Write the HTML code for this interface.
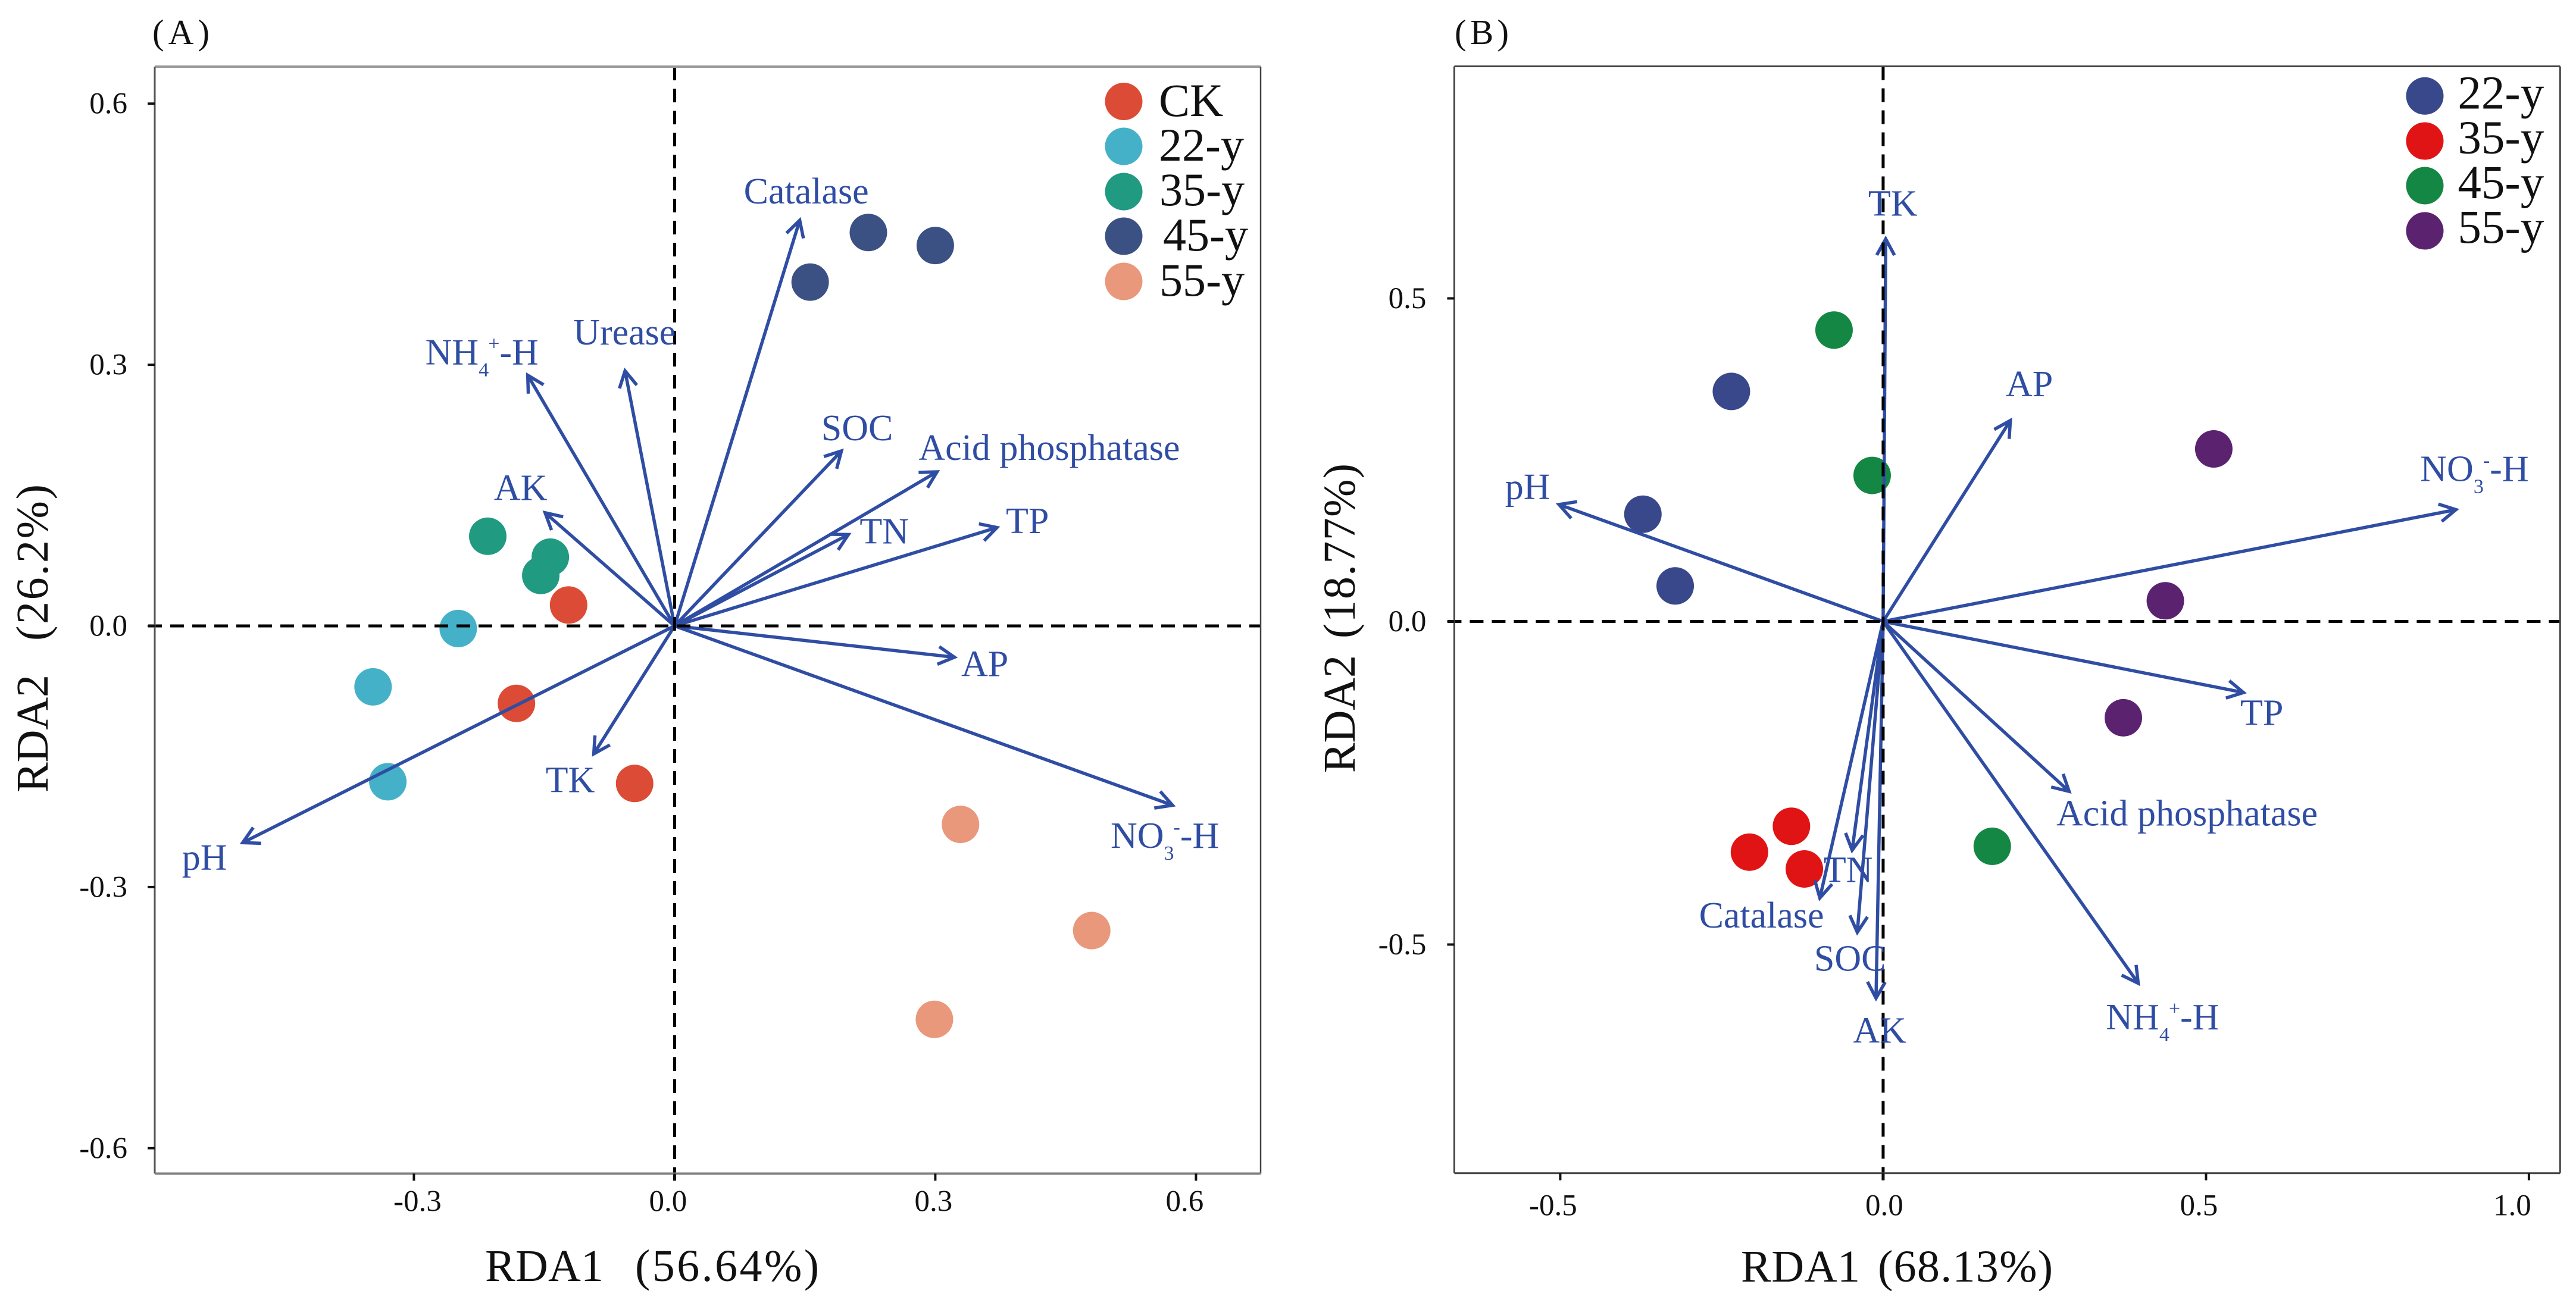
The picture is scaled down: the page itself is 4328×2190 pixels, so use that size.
<!DOCTYPE html>
<html lang="en">
<head>
<meta charset="utf-8">
<title>RDA biplots of soil properties and enzymes</title>
<style>
html,body{margin:0;padding:0;background:#fff;}
svg{display:block;font-family:"Liberation Serif","Noto Serif CJK SC",serif;}
</style>
</head>
<body>
<svg id="figure" xmlns="http://www.w3.org/2000/svg" width="4328" height="2190" viewBox="0 0 4328 2190">
  <rect x="0" y="0" width="4328" height="2190" fill="#ffffff"/>

  <text x="256" y="74" font-size="59" textLength="96" fill="#111">(A)</text>
  <text x="2444" y="74" font-size="59" textLength="91" fill="#111">(B)</text>

  <text x="815" y="2153" font-size="76" textLength="199" fill="#111">RDA1</text>
  <text x="1067" y="2153" font-size="76" textLength="309" fill="#111">(56.64%)</text>
  <text transform="translate(80 1332) rotate(-90)" font-size="76" textLength="198" fill="#111">RDA2</text>
  <text transform="translate(80 1077) rotate(-90)" font-size="76" textLength="263" fill="#111">(26.2%)</text>

  <text x="2925" y="2154" font-size="76" textLength="200" fill="#111">RDA1</text>
  <text x="3155" y="2154" font-size="76" textLength="294" fill="#111">(68.13%)</text>
  <text transform="translate(2276 1299) rotate(-90)" font-size="76" textLength="198" fill="#111">RDA2</text>
  <text transform="translate(2276 1073) rotate(-90)" font-size="76" textLength="294" fill="#111">(18.77%)</text>

  <g id="plot-layer"></g>
</svg>

<script>
// ---------- Panel A data ----------
const aGroups = ['CK', '22-y', '35-y', '45-y', '55-y'];
const aPointX = [
  [-0.122, -0.182, -0.046],
  [-0.249, -0.347, -0.330],
  [-0.215, -0.143, -0.154],
  [0.223, 0.300, 0.156],
  [0.329, 0.480, 0.299]
];
const aPointY = [
  [0.024, -0.089, -0.181],
  [-0.003, -0.070, -0.179],
  [0.103, 0.079, 0.058],
  [0.452, 0.437, 0.395],
  [-0.228, -0.350, -0.452]
];
const aVectorNames = ['Catalase', 'Urease', 'NH4', 'AK', 'SOC', 'Acid phosphatase', 'TN', 'TP', 'AP', 'NO3', 'pH', 'TK'];
const aVectorX = [0.144, -0.057, -0.169, -0.149, 0.192, 0.302, 0.200, 0.371, 0.322, 0.573, -0.497, -0.093];
const aVectorY = [0.466, 0.293, 0.288, 0.130, 0.201, 0.177, 0.105, 0.113, -0.036, -0.206, -0.249, -0.147];
const aXTicks = [-0.3, 0, 0.3, 0.6];
const aYTicks = [-0.6, -0.3, 0, 0.3, 0.6];

// ---------- Panel B data ----------
const bGroups = ['22-y', '35-y', '45-y', '55-y'];
const bPointX = [
  [-0.235, -0.372, -0.322],
  [-0.142, -0.207, -0.122],
  [-0.076, -0.017, 0.169],
  [0.512, 0.437, 0.372]
];
const bPointY = [
  [0.356, 0.166, 0.055],
  [-0.317, -0.357, -0.383],
  [0.451, 0.226, -0.348],
  [0.267, 0.032, -0.149]
];
const bVectorNames = ['TK', 'pH', 'AP', 'NO3', 'TP', 'Acid phosphatase', 'NH4', 'TN', 'SOC', 'Catalase', 'AK'];
const bVectorX = [0.004, -0.502, 0.197, 0.887, 0.558, 0.288, 0.395, -0.048, -0.040, -0.098, -0.011];
const bVectorY = [0.592, 0.181, 0.311, 0.173, -0.110, -0.263, -0.560, -0.354, -0.481, -0.428, -0.583];
const bXTicks = [-0.5, 0, 0.5, 1];
const bYTicks = [-0.5, 0, 0.5];

// ---------- Layout and style (not data) ----------
const panelA = {
  id: 'panel-a',
  left: 260, right: 2118, top: 112, bottom: 1972.5,
  originX: 1133.4, originY: 1052, unitX: 1460, unitY: 1463,
  colors: ['#dc4b35', '#45b1c8', '#209a80', '#3b5183', '#e9987b'],
  legendCircleX: 1888, legendCircleY: [170.5, 246, 322, 397, 473],
  legendTextX: [1947, 1947, 1948, 1954, 1948], legendBaseline: [195, 270, 345, 421, 497],
  legendFont: 78,
  tickLabelRight: 214, tickLabelDrop: 16.5, xTickBaseline: 2035.6,
  xLabelNudge: {'-0.3': 6, '0.0': -11, '0.3': -3, '0.6': -19},
  edges: {top: ['#9a9a9a', 4], left: ['#555', 3], right: ['#444', 2.5], bottom: ['#808080', 4]},
  labelOffset: {
    'Catalase': [-94, -28], 'Urease': [-87, -44.5], 'NH4': [-172, -18], 'AK': [-86, -21.5],
    'SOC': [-34, -18], 'Acid phosphatase': [-31, -20], 'TN': [19, 15], 'TP': [15, 9.5],
    'AP': [11.5, 31.6], 'NO3': [-104, 71.6], 'pH': [-102, 45], 'TK': [-81, 64.5]
  }
};
const panelB = {
  id: 'panel-b',
  left: 2443.4, right: 4301.3, top: 111.5, bottom: 1971.8,
  originX: 3163.9, originY: 1044.5, unitX: 1085, unitY: 1086,
  colors: ['#38488a', '#e01414', '#148744', '#5b236f'],
  legendCircleX: 4074, legendCircleY: [161.3, 237, 312, 388],
  legendTextX: [4129.4, 4129.4, 4129.4, 4129.4], legendBaseline: [182.4, 257.5, 333, 408],
  legendFont: 79,
  tickLabelRight: 2396.4, tickLabelDrop: 16.5, xTickBaseline: 2042.6,
  xLabelNudge: {'-0.5': -12, '0.0': 2, '0.5': -12, '1.0': -28},
  edges: {top: ['#444', 3], left: ['#444', 3], right: ['#444', 3], bottom: ['#444', 3]},
  labelOffset: {
    'TK': [-29.4, -39.3], 'pH': [-90.5, -9.4], 'AP': [-7.7, -40.6], 'NO3': [-60, -48.2],
    'TP': [-5.3, 54.4], 'Acid phosphatase': [-21.4, 57.4], 'NH4': [-54.2, 77.5], 'TN': [-48, 53.8],
    'SOC': [-72.6, 64.6], 'Catalase': [-203, 49.6], 'AK': [-38.6, 75]
  }
};

const SVG_NS = 'http://www.w3.org/2000/svg';
const ARROW_COLOR = '#2f4da3';
const POINT_R = 31.5;
const layer = document.getElementById('plot-layer');

function make(tag, parent, attrs) {
  const el = document.createElementNS(SVG_NS, tag);
  for (const key in attrs) el.setAttribute(key, attrs[key]);
  parent.appendChild(el);
  return el;
}

function addChemTspans(textEl, main, sub, sup) {
  const t1 = make('tspan', textEl, {});
  t1.textContent = main;
  const t2 = make('tspan', textEl, {dy: 20, 'font-size': 34});
  t2.textContent = sub;
  const t3 = make('tspan', textEl, {dy: -44, dx: -1, 'font-size': 34});
  t3.textContent = sup;
  const t4 = make('tspan', textEl, {dy: 24});
  t4.textContent = '-H';
}

function drawPanel(p, groups, pointX, pointY, vecNames, vecX, vecY, xTicks, yTicks) {
  const sx = v => p.originX + v * p.unitX;
  const sy = v => p.originY - v * p.unitY;
  const g = make('g', layer, {});
  
  

  // points
  groups.forEach((name, i) => {
    pointX[i].forEach((xv, j) => {
      const c = make('circle', g, {cx: sx(xv), cy: sy(pointY[i][j]), r: POINT_R, fill: p.colors[i]});
      
      
    });
  });

  // vectors
  vecNames.forEach((name, i) => {
    const x1 = sx(vecX[i]);
    const y1 = sy(vecY[i]);
    const ang = Math.atan2(y1 - p.originY, x1 - p.originX);
    const hl = 31;
    const spread = 0.5;
    const bx1 = x1 - hl * Math.cos(ang - spread);
    const by1 = y1 - hl * Math.sin(ang - spread);
    const bx2 = x1 - hl * Math.cos(ang + spread);
    const by2 = y1 - hl * Math.sin(ang + spread);
    const d = 'M' + p.originX + ' ' + p.originY + 'L' + x1 + ' ' + y1 +
              'M' + bx1 + ' ' + by1 + 'L' + x1 + ' ' + y1 + 'L' + bx2 + ' ' + by2;
    const a = make('path', g, {d: d, fill: 'none', stroke: ARROW_COLOR, 'stroke-width': 5.5});
    
    
  });

  // zero lines
  const hz = make('line', g, {x1: p.left - 11, x2: p.right, y1: p.originY, y2: p.originY, stroke: '#000', 'stroke-width': 5, 'stroke-dasharray': '23 14'});
  
  
  const vz = make('line', g, {x1: p.originX, x2: p.originX, y1: p.top, y2: p.bottom + 12, stroke: '#000', 'stroke-width': 5, 'stroke-dasharray': '23 14'});
  
  

  // frame
  const edgeCoords = {
    top: [p.left, p.top, p.right, p.top],
    left: [p.left, p.top, p.left, p.bottom],
    right: [p.right, p.top, p.right, p.bottom],
    bottom: [p.left, p.bottom, p.right, p.bottom]
  };
  Object.keys(edgeCoords).forEach(k => {
    const e = edgeCoords[k];
    const edge = make('line', g, {x1: e[0], y1: e[1], x2: e[2], y2: e[3], stroke: p.edges[k][0], 'stroke-width': p.edges[k][1]});
    
    
  });

  // y ticks
  yTicks.forEach(v => {
    const t = make('line', g, {x1: p.left - 12, x2: p.left, y1: sy(v), y2: sy(v), stroke: '#111', 'stroke-width': 4});
    
    
    const lab = make('text', g, {x: p.tickLabelRight, y: sy(v) + p.tickLabelDrop, 'font-size': 51, 'text-anchor': 'end', fill: '#111'});
    
    
    lab.textContent = v.toFixed(1);
  });

  // x ticks
  xTicks.forEach(v => {
    const t = make('line', g, {x1: sx(v), x2: sx(v), y1: p.bottom, y2: p.bottom + 12, stroke: '#111', 'stroke-width': 4});
    
    
    const txt = v.toFixed(1);
    const lab = make('text', g, {x: sx(v) + (p.xLabelNudge[txt] || 0), y: p.xTickBaseline, 'font-size': 51, 'text-anchor': 'middle', fill: '#111'});
    
    
    lab.textContent = txt;
  });

  // vector labels
  vecNames.forEach((name, i) => {
    const off = p.labelOffset[name];
    const lab = make('text', g, {x: sx(vecX[i]) + off[0], y: sy(vecY[i]) + off[1], 'font-size': 62, fill: ARROW_COLOR});
    
    
    if (name === 'NH4') addChemTspans(lab, 'NH', '4', '+');
    else if (name === 'NO3') addChemTspans(lab, 'NO', '3', '-');
    else lab.textContent = name;
  });

  // legend
  groups.forEach((name, i) => {
    const c = make('circle', g, {cx: p.legendCircleX, cy: p.legendCircleY[i], r: POINT_R, fill: p.colors[i]});
    
    
    const lab = make('text', g, {x: p.legendTextX[i], y: p.legendBaseline[i], 'font-size': p.legendFont, fill: '#111'});
    
    
    lab.textContent = name;
  });
}

drawPanel(panelA, aGroups, aPointX, aPointY, aVectorNames, aVectorX, aVectorY, aXTicks, aYTicks);
drawPanel(panelB, bGroups, bPointX, bPointY, bVectorNames, bVectorX, bVectorY, bXTicks, bYTicks);
</script>
</body>
</html>
